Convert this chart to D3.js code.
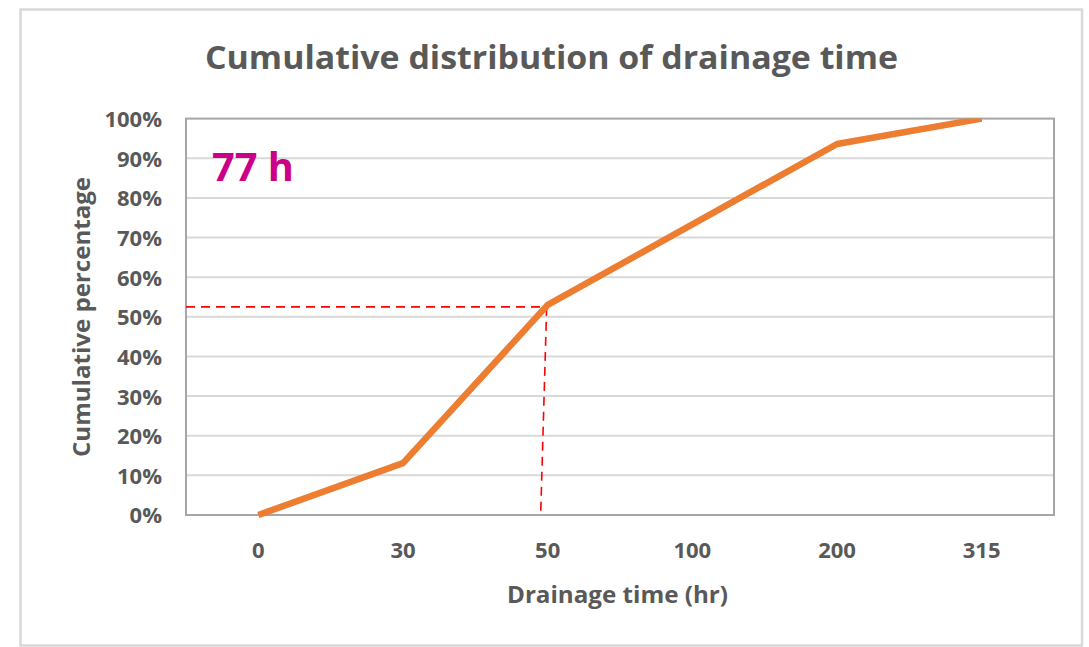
<!DOCTYPE html>
<html>
<head>
<meta charset="utf-8">
<script src="https://cdn.jsdelivr.net/npm/d3@7"></script>
<style>
  html, body { margin: 0; padding: 0; background: #ffffff; }
  svg text { font-family: "Open Sans", "Noto Sans", sans-serif; font-weight: 700; fill: #595959; }
</style>
</head>
<body>
<svg id="chart" width="1089" height="647"></svg>
<script>
// ---- data ----
const categories = ["0", "30", "50", "100", "200", "315"];
const cumulative = [0.0, 0.131, 0.53, 0.733, 0.936, 1.0];
const yTicks = [0, 0.1, 0.2, 0.3, 0.4, 0.5, 0.6, 0.7, 0.8, 0.9, 1.0];
const titleText = "Cumulative distribution of drainage time";
const xTitle = "Drainage time (hr)";
const yTitle = "Cumulative percentage";
const markerCategory = "50";
const markerValue = 0.525;
const annotationText = "77 h";

// ---- layout ----
const W = 1089, H = 647;
const plot = { left: 186, right: 1054, top: 118.6, bottom: 515 };

const svg = d3.select("#chart");

// outer frame
svg.append("rect")
  .attr("x", 20.5).attr("y", 9.5)
  .attr("width", 1061.5).attr("height", 636)
  .attr("fill", "#ffffff")
  .attr("stroke", "#d9d9d9").attr("stroke-width", 2.5);

const x = d3.scaleBand().domain(categories).range([plot.left, plot.right]).padding(0);
const y = d3.scaleLinear().domain([0, 1]).range([plot.bottom, plot.top]);
const xc = c => x(c) + x.bandwidth() / 2;

// gridlines
svg.append("g")
  .selectAll("line").data(yTicks.filter(t => t > 0 && t < 1)).join("line")
  .attr("x1", plot.left).attr("x2", plot.right)
  .attr("y1", d => y(d)).attr("y2", d => y(d))
  .attr("stroke", "#d9d9d9").attr("stroke-width", 2);

// plot area border
svg.append("rect")
  .attr("x", plot.left).attr("y", plot.top)
  .attr("width", plot.right - plot.left).attr("height", plot.bottom - plot.top)
  .attr("fill", "none").attr("stroke", "#a6a6a6").attr("stroke-width", 2);

// y axis
const yAxis = d3.axisLeft(y).tickValues(yTicks).tickFormat(d3.format(".0%")).tickSize(0).tickPadding(24);
const gy = svg.append("g").attr("transform", `translate(${plot.left},0)`).call(yAxis);
gy.select(".domain").remove();
gy.selectAll("text").attr("font-size", 22).attr("fill", "#595959").attr("dy", "0.36em");

// x axis
const xAxis = d3.axisBottom(x).tickSize(0).tickPadding(27);
const gx = svg.append("g").attr("transform", `translate(0,${plot.bottom})`).call(xAxis);
gx.select(".domain").remove();
gx.selectAll("text").attr("font-size", 22).attr("fill", "#595959").attr("dy", "0.71em");

// dashed marker lines
const mx = xc(markerCategory), my = y(markerValue);
svg.append("line")
  .attr("x1", plot.left).attr("x2", mx)
  .attr("y1", my).attr("y2", my)
  .attr("stroke", "#ff0000").attr("stroke-width", 1.6).attr("stroke-dasharray", "9,6");
svg.append("line")
  .attr("x1", mx - 1).attr("x2", mx - 7)
  .attr("y1", my).attr("y2", y(0))
  .attr("stroke", "#ff0000").attr("stroke-width", 1.6).attr("stroke-dasharray", "9,6");

// clip for the line
svg.append("clipPath").attr("id", "plotclip")
  .append("rect")
  .attr("x", plot.left).attr("y", plot.top)
  .attr("width", plot.right - plot.left).attr("height", plot.bottom - plot.top + 3);

const line = d3.line().x((d, i) => xc(categories[i])).y(d => y(d));
svg.append("path")
  .datum(cumulative)
  .attr("clip-path", "url(#plotclip)")
  .attr("d", line)
  .attr("fill", "none")
  .attr("stroke", "#ed7d31").attr("stroke-width", 6.5)
  .attr("stroke-linejoin", "round").attr("stroke-linecap", "butt");

// annotation
svg.append("text")
  .attr("x", 212).attr("y", 181)
  .attr("font-size", 40)
  .attr("textLength", 82).attr("lengthAdjust", "spacingAndGlyphs")
  .style("fill", "#cc0088")
  .text(annotationText);

// title
svg.append("text")
  .attr("x", 551.5).attr("y", 69)
  .attr("text-anchor", "middle")
  .attr("font-size", 32)
  .attr("textLength", 693).attr("lengthAdjust", "spacingAndGlyphs")
  .text(titleText);

// axis titles
svg.append("text")
  .attr("x", 617.5).attr("y", 603)
  .attr("text-anchor", "middle")
  .attr("font-size", 24)
  .attr("textLength", 221).attr("lengthAdjust", "spacingAndGlyphs")
  .text(xTitle);

svg.append("text")
  .attr("transform", "translate(90,317) rotate(-90)")
  .attr("text-anchor", "middle")
  .attr("font-size", 24)
  .attr("textLength", 280).attr("lengthAdjust", "spacingAndGlyphs")
  .text(yTitle);
</script>
</body>
</html>
